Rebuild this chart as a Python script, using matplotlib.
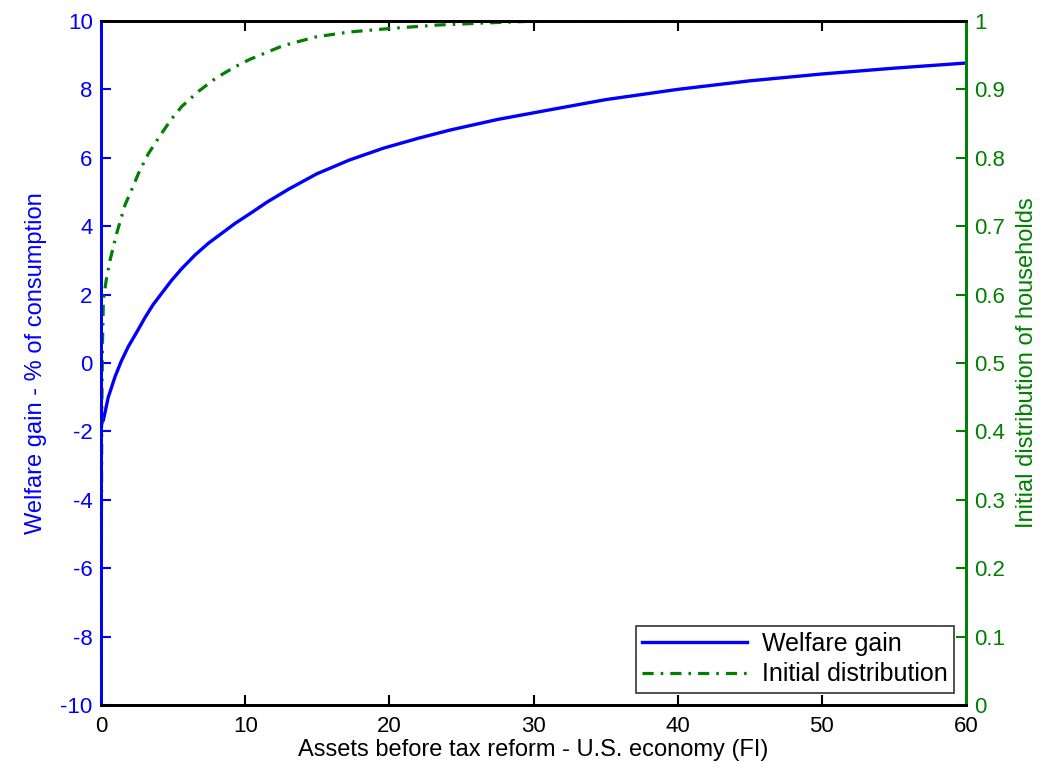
import numpy as np
import matplotlib
matplotlib.use("Agg")
import matplotlib.pyplot as plt
from matplotlib.lines import Line2D

plt.rcParams['font.family'] = ['Liberation Sans', 'DejaVu Sans']
plt.rcParams['axes.unicode_minus'] = False

# welfare gain (% of consumption) vs assets before reform
assets_w = [0, 0.16, 0.5, 0.97, 1.4, 1.89, 2.5, 3.05, 3.6, 4.21, 4.9, 5.6, 6.5,
            7.44, 8.4, 9.29, 10.45, 11.5, 13.0, 14.96, 17.2, 19.58, 22.0, 24.2,
            27.5, 31.1, 35, 40, 45, 50, 55, 60]
welfare = [-1.8, -1.67, -1.0, -0.40, 0.05, 0.48, 0.92, 1.33, 1.7, 2.04, 2.42, 2.76, 3.15,
           3.5, 3.8, 4.08, 4.4, 4.7, 5.08, 5.53, 5.93, 6.28, 6.57, 6.81,
           7.12, 7.40, 7.70, 8.0, 8.25, 8.45, 8.62, 8.77]

# initial distribution of households (cdf)
assets_d = [0, 0.02, 0.05, 0.1, 0.16, 0.35, 0.62, 1.09, 1.66, 2.2, 2.59, 3.28, 4.21,
            4.9, 5.6, 6.75, 8.0, 9.29, 10.33, 11.6, 12.64, 14.96, 17.27, 20.04,
            23.3, 26.5, 30.4, 40, 50, 60]
distrib = [0.0, 0.2, 0.42, 0.53, 0.592, 0.62, 0.65, 0.69, 0.731, 0.757, 0.777, 0.806, 0.836,
           0.857, 0.875, 0.897, 0.917, 0.933, 0.944, 0.955, 0.964, 0.977, 0.984, 0.989,
           0.994, 0.997, 1.0, 1.0, 1.0, 1.0]

xticks = [0, 10, 20, 30, 40, 50, 60]
lticks = [-10, -8, -6, -4, -2, 0, 2, 4, 6, 8, 10]
rticks = [0, 0.1, 0.2, 0.3, 0.4, 0.5, 0.6, 0.7, 0.8, 0.9, 1]
rlabels = ['0', '0.1', '0.2', '0.3', '0.4', '0.5', '0.6', '0.7', '0.8', '0.9', '1']

blue = '#0000ff'
green = '#008000'
fs = 16
lfs = 17

fig = plt.figure(figsize=(10.45, 7.74), dpi=100)
ax = fig.add_axes([0.0967, 0.0891, 0.8277, 0.8838])
ax2 = ax.twinx()

ax.plot(assets_w, welfare, color=blue, lw=2.4, solid_joinstyle='round')
ax2.plot(assets_d, distrib, color=green, lw=2.3, dashes=[3.5, 2.2, 0.8, 2.2])

ax.set_xlim(0, 60)
ax.set_ylim(-10, 10)
ax2.set_ylim(0, 1)
ax.set_xticks(xticks)
ax.set_yticks(lticks)
ax2.set_yticks(rticks)
ax2.set_yticklabels(rlabels)

ax.tick_params(axis='x', direction='in', top=True, length=7, width=1.5,
               labelsize=fs, colors='black', pad=8)
ax.tick_params(axis='y', direction='in', length=7, width=1.5, labelsize=fs,
               colors=blue, pad=6)
ax2.tick_params(axis='y', direction='in', length=7, width=1.5, labelsize=fs,
                colors=green, pad=6)

for a in (ax, ax2):
    for s in a.spines.values():
        s.set_linewidth(2)
    a.spines['top'].set_color('black')
    a.spines['bottom'].set_color('black')
ax.spines['left'].set_color(blue)
ax2.spines['left'].set_color(blue)
ax.spines['right'].set_color(green)
ax2.spines['right'].set_color(green)

ax.set_xlabel('Assets before tax reform - U.S. economy (FI)', fontsize=lfs, labelpad=1)
ax.set_ylabel('Welfare gain - % of consumption', fontsize=lfs, color=blue, labelpad=10)
ax2.set_ylabel('Initial distribution of households', fontsize=lfs, color=green, labelpad=8)

handles = [Line2D([], [], color=blue, lw=2.4),
           Line2D([], [], color=green, lw=2.3, dashes=[3.5, 2.2, 0.8, 2.2])]
leg = ax2.legend(handles, ['Welfare gain', 'Initial distribution'],
                 loc='lower right', bbox_to_anchor=(0.986, 0.018),
                 fontsize=lfs + 1, frameon=True, fancybox=False,
                 handlelength=4.2, borderpad=0.25, labelspacing=0.25,
                 handletextpad=0.6, borderaxespad=0)
leg.get_frame().set_edgecolor('black')
leg.get_frame().set_linewidth(1.2)

fig.savefig('out.png', dpi=100)
